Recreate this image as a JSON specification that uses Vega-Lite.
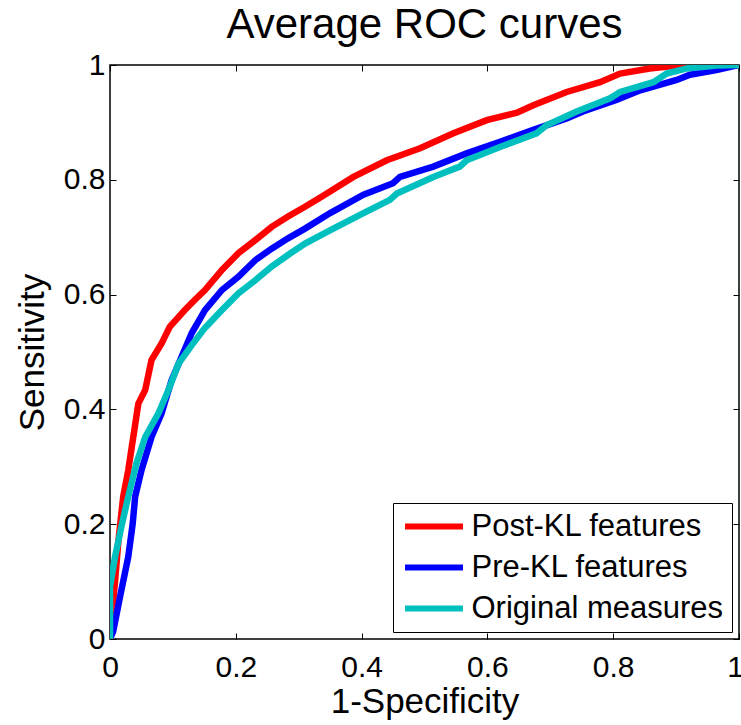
{
  "$schema": "https://vega.github.io/schema/vega-lite/v6.json",
  "width": 629,
  "height": 574,
  "autosize": {"type": "none"},
  "padding": {"left": 110, "top": 65, "right": 2, "bottom": 86},
  "background": "white",
  "title": {
    "text": "Average ROC curves",
    "font": "Liberation Sans",
    "fontSize": 42,
    "fontWeight": "normal",
    "color": "black",
    "anchor": "middle",
    "frame": "group",
    "offset": 3
  },
  "config": {
    "view": {"stroke": "black", "strokeWidth": 1.5},
    "axis": {
      "labelFont": "Liberation Sans",
      "titleFont": "Liberation Sans",
      "labelColor": "black",
      "titleColor": "black",
      "titleFontWeight": "normal",
      "grid": false,
      "domain": false,
      "tickColor": "black",
      "tickWidth": 1,
      "tickSize": -6,
      "labelFontSize": 30,
      "titleFontSize": 35,
      "format": "~g"
    }
  },
  "data": {
    "values": [
      {"s": "Post-KL features", "fpr": 0, "tpr": 0},
      {"s": "Post-KL features", "fpr": 0.003, "tpr": 0.039},
      {"s": "Post-KL features", "fpr": 0.008, "tpr": 0.1},
      {"s": "Post-KL features", "fpr": 0.013, "tpr": 0.167},
      {"s": "Post-KL features", "fpr": 0.021, "tpr": 0.248},
      {"s": "Post-KL features", "fpr": 0.029, "tpr": 0.294},
      {"s": "Post-KL features", "fpr": 0.037, "tpr": 0.352},
      {"s": "Post-KL features", "fpr": 0.045, "tpr": 0.41},
      {"s": "Post-KL features", "fpr": 0.056, "tpr": 0.434},
      {"s": "Post-KL features", "fpr": 0.066, "tpr": 0.486},
      {"s": "Post-KL features", "fpr": 0.082, "tpr": 0.515},
      {"s": "Post-KL features", "fpr": 0.095, "tpr": 0.544},
      {"s": "Post-KL features", "fpr": 0.119, "tpr": 0.573},
      {"s": "Post-KL features", "fpr": 0.135, "tpr": 0.591},
      {"s": "Post-KL features", "fpr": 0.151, "tpr": 0.608},
      {"s": "Post-KL features", "fpr": 0.178, "tpr": 0.643},
      {"s": "Post-KL features", "fpr": 0.204, "tpr": 0.672},
      {"s": "Post-KL features", "fpr": 0.231, "tpr": 0.695},
      {"s": "Post-KL features", "fpr": 0.257, "tpr": 0.718},
      {"s": "Post-KL features", "fpr": 0.283, "tpr": 0.736},
      {"s": "Post-KL features", "fpr": 0.31, "tpr": 0.753},
      {"s": "Post-KL features", "fpr": 0.337, "tpr": 0.771},
      {"s": "Post-KL features", "fpr": 0.387, "tpr": 0.805},
      {"s": "Post-KL features", "fpr": 0.44, "tpr": 0.834},
      {"s": "Post-KL features", "fpr": 0.493, "tpr": 0.855},
      {"s": "Post-KL features", "fpr": 0.546, "tpr": 0.881},
      {"s": "Post-KL features", "fpr": 0.599, "tpr": 0.904},
      {"s": "Post-KL features", "fpr": 0.647, "tpr": 0.917},
      {"s": "Post-KL features", "fpr": 0.673, "tpr": 0.93},
      {"s": "Post-KL features", "fpr": 0.726, "tpr": 0.953},
      {"s": "Post-KL features", "fpr": 0.779, "tpr": 0.97},
      {"s": "Post-KL features", "fpr": 0.811, "tpr": 0.985},
      {"s": "Post-KL features", "fpr": 0.858, "tpr": 0.994},
      {"s": "Post-KL features", "fpr": 0.911, "tpr": 1.0},
      {"s": "Post-KL features", "fpr": 1, "tpr": 1},

      {"s": "Pre-KL features", "fpr": 0, "tpr": 0},
      {"s": "Pre-KL features", "fpr": 0.005, "tpr": 0.013},
      {"s": "Pre-KL features", "fpr": 0.016, "tpr": 0.074},
      {"s": "Pre-KL features", "fpr": 0.029, "tpr": 0.143},
      {"s": "Pre-KL features", "fpr": 0.036, "tpr": 0.2},
      {"s": "Pre-KL features", "fpr": 0.04, "tpr": 0.248},
      {"s": "Pre-KL features", "fpr": 0.05, "tpr": 0.294},
      {"s": "Pre-KL features", "fpr": 0.066, "tpr": 0.352},
      {"s": "Pre-KL features", "fpr": 0.082, "tpr": 0.393},
      {"s": "Pre-KL features", "fpr": 0.098, "tpr": 0.451},
      {"s": "Pre-KL features", "fpr": 0.114, "tpr": 0.492},
      {"s": "Pre-KL features", "fpr": 0.13, "tpr": 0.533},
      {"s": "Pre-KL features", "fpr": 0.151, "tpr": 0.573},
      {"s": "Pre-KL features", "fpr": 0.178, "tpr": 0.608},
      {"s": "Pre-KL features", "fpr": 0.204, "tpr": 0.631},
      {"s": "Pre-KL features", "fpr": 0.231, "tpr": 0.66},
      {"s": "Pre-KL features", "fpr": 0.257, "tpr": 0.68},
      {"s": "Pre-KL features", "fpr": 0.283, "tpr": 0.698},
      {"s": "Pre-KL features", "fpr": 0.31, "tpr": 0.715},
      {"s": "Pre-KL features", "fpr": 0.35, "tpr": 0.742},
      {"s": "Pre-KL features", "fpr": 0.403, "tpr": 0.774},
      {"s": "Pre-KL features", "fpr": 0.45, "tpr": 0.794},
      {"s": "Pre-KL features", "fpr": 0.461, "tpr": 0.805},
      {"s": "Pre-KL features", "fpr": 0.514, "tpr": 0.823},
      {"s": "Pre-KL features", "fpr": 0.567, "tpr": 0.846},
      {"s": "Pre-KL features", "fpr": 0.62, "tpr": 0.866},
      {"s": "Pre-KL features", "fpr": 0.673, "tpr": 0.887},
      {"s": "Pre-KL features", "fpr": 0.726, "tpr": 0.907},
      {"s": "Pre-KL features", "fpr": 0.752, "tpr": 0.919},
      {"s": "Pre-KL features", "fpr": 0.805, "tpr": 0.939},
      {"s": "Pre-KL features", "fpr": 0.843, "tpr": 0.956},
      {"s": "Pre-KL features", "fpr": 0.901, "tpr": 0.974},
      {"s": "Pre-KL features", "fpr": 0.922, "tpr": 0.983},
      {"s": "Pre-KL features", "fpr": 0.964, "tpr": 0.991},
      {"s": "Pre-KL features", "fpr": 1, "tpr": 1},

      {"s": "Original measures", "fpr": 0, "tpr": 0},
      {"s": "Original measures", "fpr": 0, "tpr": 0.091},
      {"s": "Original measures", "fpr": 0.008, "tpr": 0.143},
      {"s": "Original measures", "fpr": 0.019, "tpr": 0.2},
      {"s": "Original measures", "fpr": 0.029, "tpr": 0.248},
      {"s": "Original measures", "fpr": 0.042, "tpr": 0.306},
      {"s": "Original measures", "fpr": 0.056, "tpr": 0.352},
      {"s": "Original measures", "fpr": 0.077, "tpr": 0.393},
      {"s": "Original measures", "fpr": 0.093, "tpr": 0.434},
      {"s": "Original measures", "fpr": 0.109, "tpr": 0.48},
      {"s": "Original measures", "fpr": 0.13, "tpr": 0.512},
      {"s": "Original measures", "fpr": 0.151, "tpr": 0.542},
      {"s": "Original measures", "fpr": 0.178, "tpr": 0.573},
      {"s": "Original measures", "fpr": 0.204, "tpr": 0.602},
      {"s": "Original measures", "fpr": 0.231, "tpr": 0.625},
      {"s": "Original measures", "fpr": 0.257, "tpr": 0.649},
      {"s": "Original measures", "fpr": 0.283, "tpr": 0.669},
      {"s": "Original measures", "fpr": 0.31, "tpr": 0.689},
      {"s": "Original measures", "fpr": 0.355, "tpr": 0.715},
      {"s": "Original measures", "fpr": 0.403, "tpr": 0.742},
      {"s": "Original measures", "fpr": 0.445, "tpr": 0.765},
      {"s": "Original measures", "fpr": 0.456, "tpr": 0.776},
      {"s": "Original measures", "fpr": 0.514, "tpr": 0.805},
      {"s": "Original measures", "fpr": 0.556, "tpr": 0.823},
      {"s": "Original measures", "fpr": 0.567, "tpr": 0.834},
      {"s": "Original measures", "fpr": 0.62, "tpr": 0.857},
      {"s": "Original measures", "fpr": 0.678, "tpr": 0.881},
      {"s": "Original measures", "fpr": 0.694, "tpr": 0.895},
      {"s": "Original measures", "fpr": 0.742, "tpr": 0.919},
      {"s": "Original measures", "fpr": 0.795, "tpr": 0.942},
      {"s": "Original measures", "fpr": 0.811, "tpr": 0.953},
      {"s": "Original measures", "fpr": 0.864, "tpr": 0.97},
      {"s": "Original measures", "fpr": 0.885, "tpr": 0.985},
      {"s": "Original measures", "fpr": 0.917, "tpr": 0.994},
      {"s": "Original measures", "fpr": 0.964, "tpr": 0.999},
      {"s": "Original measures", "fpr": 1, "tpr": 1}
    ]
  },
  "encoding": {
    "color": {
      "field": "s",
      "type": "nominal",
      "scale": {
        "domain": ["Post-KL features", "Pre-KL features", "Original measures"],
        "range": ["#ff0000", "#0000ff", "#00bfbf"]
      },
      "legend": {
        "title": null,
        "orient": "bottom-right",
        "offset": 7,
        "fillColor": "white",
        "strokeColor": "black",
        "padding": 8,
        "rowPadding": 9,
        "symbolType": "M-4.83,0H4.83",
        "symbolSize": 144,
        "symbolStrokeWidth": 6,
        "symbolOffset": 17.5,
        "labelFont": "Liberation Sans",
        "labelFontSize": 31,
        "labelColor": "black",
        "labelOffset": 22,
        "labelLimit": 400
      }
    }
  },
  "resolve": {"axis": {"x": "independent", "y": "independent"}},
  "layer": [
    {
      "transform": [{"filter": "datum.s === 'Post-KL features'"}],
      "mark": {"type": "line", "strokeWidth": 6.5, "clip": true},
      "encoding": {
        "x": {
          "field": "fpr", "type": "quantitative",
          "scale": {"domain": [0, 1], "nice": false, "zero": false},
          "axis": {
            "title": "1-Specificity",
            "values": [0, 0.2, 0.4, 0.6, 0.8, 1],
            "labelPadding": 19,
            "titlePadding": 2,
            "labelFlush": false,
            "labelOffset": {"condition": {"test": "datum.value === 1", "value": -4}, "value": 0}
          }
        },
        "y": {
          "field": "tpr", "type": "quantitative",
          "scale": {"domain": [0, 1], "nice": false, "zero": false},
          "axis": {"title": "Sensitivity", "values": [0, 0.2, 0.4, 0.6, 0.8, 1], "labelPadding": 11, "titlePadding": 13, "labelFlush": false}
        },
        "order": {"field": "fpr", "type": "quantitative"}
      }
    },
    {
      "transform": [{"filter": "datum.s === 'Pre-KL features'"}],
      "mark": {"type": "line", "strokeWidth": 6.5, "clip": true},
      "encoding": {
        "x": {
          "field": "fpr", "type": "quantitative",
          "axis": {"orient": "top", "title": null, "labels": false, "values": [0, 0.2, 0.4, 0.6, 0.8, 1]}
        },
        "y": {
          "field": "tpr", "type": "quantitative",
          "axis": {"orient": "right", "title": null, "labels": false, "values": [0, 0.2, 0.4, 0.6, 0.8, 1]}
        },
        "order": {"field": "fpr", "type": "quantitative"}
      }
    },
    {
      "transform": [{"filter": "datum.s === 'Original measures'"}],
      "mark": {"type": "line", "strokeWidth": 6.5, "clip": true},
      "encoding": {
        "x": {"field": "fpr", "type": "quantitative", "axis": null},
        "y": {"field": "tpr", "type": "quantitative", "axis": null},
        "order": {"field": "fpr", "type": "quantitative"}
      }
    }
  ]
}
